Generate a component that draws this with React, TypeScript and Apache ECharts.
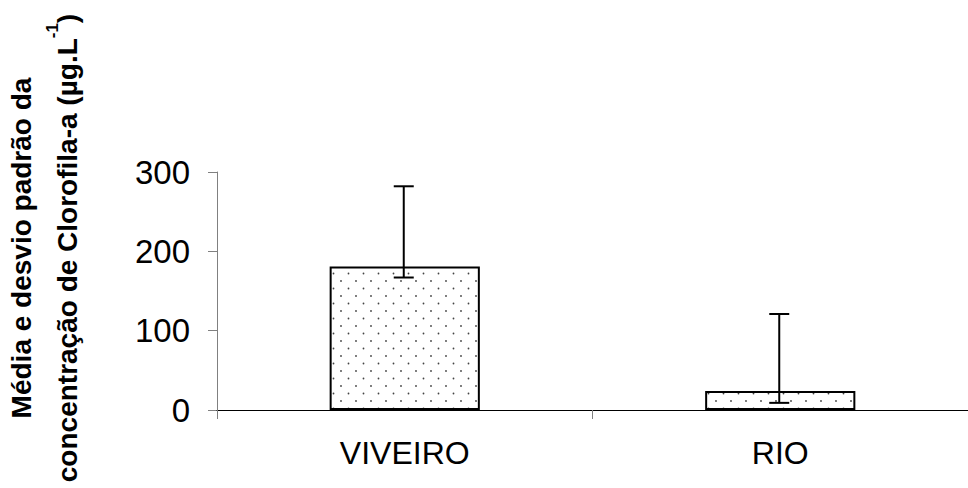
import React, { useEffect, useRef } from "react";
import * as echarts from "echarts";

const categories = ["VIVEIRO", "RIO"];
const means = [181, 24];
const errLower = [167, 9];
const errUpper = [282, 121];
const yTicks = { min: 0, max: 300, interval: 100 };
const titleLines = ["Média e desvio padrão da", "concentração de Clorofila-a (µg.L{sup|-1})"];

function makeDots(): HTMLCanvasElement {
  const c = document.createElement("canvas");
  c.width = 15;
  c.height = 15;
  const ctx = c.getContext("2d")!;
  ctx.fillStyle = "#ffffff";
  ctx.fillRect(0, 0, 15, 15);
  ctx.fillStyle = "#444444";
  ctx.beginPath();
  ctx.arc(3.5, 3.5, 0.9, 0, Math.PI * 2);
  ctx.fill();
  ctx.beginPath();
  ctx.arc(11, 11, 0.9, 0, Math.PI * 2);
  ctx.fill();
  return c;
}

export default function App() {
  const ref = useRef<HTMLDivElement>(null);
  useEffect(() => {
    if (!ref.current) return;
    const chart = echarts.init(ref.current, null, { renderer: "svg" });
    const font = "Liberation Sans, Arial, sans-serif";
    const errData = categories.map((_, i) => [i, errLower[i], errUpper[i]]);
    chart.setOption({
      animation: false,
      backgroundColor: "#ffffff",
      grid: { left: 217, top: 172, bottom: 78, right: -9, containLabel: false },
      xAxis: {
        type: "category",
        data: categories,
        boundaryGap: true,
        axisLine: { show: true, lineStyle: { color: "#000000", width: 1 } },
        axisTick: { show: true, length: 9, alignWithLabel: false, lineStyle: { color: "#808080", width: 1 } },
        axisLabel: { color: "#000000", fontSize: 32, fontFamily: font, margin: 27 },
        splitLine: { show: false },
        z: 3,
      },
      yAxis: {
        type: "value",
        min: yTicks.min,
        max: yTicks.max,
        interval: yTicks.interval,
        axisLine: { show: true, lineStyle: { color: "#808080", width: 1 } },
        axisTick: { show: true, length: 9, inside: false, lineStyle: { color: "#808080", width: 1 } },
        axisLabel: { color: "#000000", fontSize: 33, fontFamily: font, margin: 27 },
        splitLine: { show: false },
      },
      graphic: [
        {
          type: "text",
          x: 44,
          y: 248,
          rotation: Math.PI / 2,
          style: {
            text: titleLines.join("\n"),
            font: `bold 28px ${font}`,
            fill: "#000000",
            align: "center",
            verticalAlign: "middle",
            lineHeight: 46,
            rich: {
              sup: { font: `bold 17px ${font}`, verticalAlign: "top", lineHeight: 46, padding: [0, 0, 14, 0] },
            },
          },
        },
      ],
      series: [
        {
          type: "bar",
          data: means,
          barWidth: "40%",
          itemStyle: {
            color: { image: makeDots(), repeat: "repeat" },
            borderColor: "#000000",
            borderWidth: 2,
          },
        },
        {
          type: "custom",
          data: errData,
          z: 5,
          renderItem: (params: any, api: any) => {
            const x = api.value(0);
            const lo = api.coord([x, api.value(1)]);
            const hi = api.coord([x, api.value(2)]);
            const cx = lo[0] - 1;
            const hw = 10;
            const st = { stroke: "#000000", lineWidth: 2 };
            return {
              type: "group",
              children: [
                { type: "line", shape: { x1: cx, y1: lo[1], x2: cx, y2: hi[1] }, style: st },
                { type: "line", shape: { x1: cx - hw, y1: lo[1], x2: cx + hw, y2: lo[1] }, style: st },
                { type: "line", shape: { x1: cx - hw, y1: hi[1], x2: cx + hw, y2: hi[1] }, style: st },
              ],
            };
          },
        },
      ],
    });
    return () => chart.dispose();
  }, []);
  return (
    <div
      ref={ref}
      style={{ position: "fixed", left: 0, top: 0, width: 968, height: 488, background: "#fff" }}
    />
  );
}
